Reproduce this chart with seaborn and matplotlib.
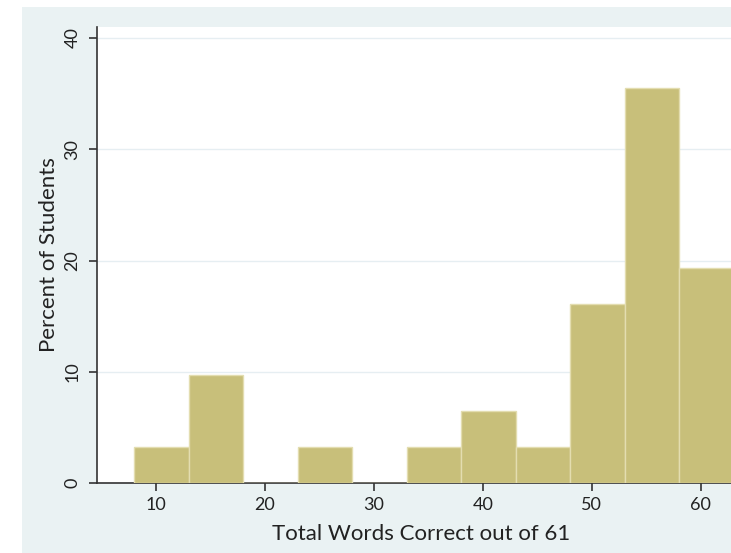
import numpy as np
import pandas as pd
import matplotlib
matplotlib.use("Agg")
import matplotlib.pyplot as plt
import seaborn as sns

# Data
bin_left = [8, 13, 18, 23, 28, 33, 38, 43, 48, 53, 58]
percent = [3.23, 9.68, 0.0, 3.23, 0.0, 3.23, 6.45, 3.23, 16.13, 35.48, 19.35]
bin_width = 5
x_ticks = [10, 20, 30, 40, 50, 60]
y_ticks = [0, 10, 20, 30, 40]
x_label = "Total Words Correct out of 61"
y_label = "Percent of Students"

df = pd.DataFrame({"score": [b + bin_width / 2 for b in bin_left], "pct": percent})
edges = [bin_left[0] + i * bin_width for i in range(len(bin_left) + 1)]

sns.set_theme(style="white")
plt.rcParams["font.family"] = ["Lato", "DejaVu Sans"]

W, H = 731, 553
fig = plt.figure(figsize=(W / 100, H / 100), dpi=100, facecolor="white")
# outer light background region (as a background axes)
bg = fig.add_axes([22 / W, 0, 1 - 22 / W, 1 - 7 / H], zorder=0)
bg.set_facecolor("#EAF2F3")
bg.set_xticks([]); bg.set_yticks([])
for s in bg.spines.values():
    s.set_visible(False)

xmin, xmax = 4.6, 66.0
px_per_x = 10.9
ax_left = 97
ax_right = ax_left + (xmax - xmin) * px_per_x
ax_bottom = 483
ax_top = 27
ax = fig.add_axes([ax_left / W, 1 - ax_bottom / H, (ax_right - ax_left) / W, (ax_bottom - ax_top) / H], zorder=2)
ax.set_facecolor("white")

sns.histplot(data=df, x="score", weights="pct", bins=edges, ax=ax,
             color="#C8BF7A", edgecolor="#E3DDB0", linewidth=1.0, alpha=1.0, zorder=3)

ax.set_xlim(xmin, xmax)
ax.set_ylim(0, (ax_bottom - ax_top) / 11.125)
ax.set_xticks(x_ticks)
ax.set_yticks(y_ticks)
ax.set_yticklabels([str(v) for v in y_ticks], rotation=90, va="center")
ax.yaxis.grid(True, color="#E6EEF2", linewidth=1.0, zorder=0)
ax.xaxis.grid(False)
ax.set_axisbelow(True)

for s in ["top", "right"]:
    ax.spines[s].set_visible(False)
for s in ["left", "bottom"]:
    ax.spines[s].set_color("#333333")
    ax.spines[s].set_linewidth(1.2)

ax.tick_params(axis="both", direction="out", length=6, width=1.2, color="#333333",
               labelsize=13, labelcolor="#222222", pad=4, bottom=True, left=True)
ax.tick_params(axis="y", pad=6)

ax.set_xlabel(x_label, fontsize=16, color="#222222")
ax.set_ylabel(y_label, fontsize=16, color="#222222", labelpad=4)
ax.xaxis.set_label_coords((421 - ax_left) / (ax_right - ax_left), -41 / (ax_bottom - ax_top))

fig.savefig("out.png", dpi=100, facecolor=fig.get_facecolor())
